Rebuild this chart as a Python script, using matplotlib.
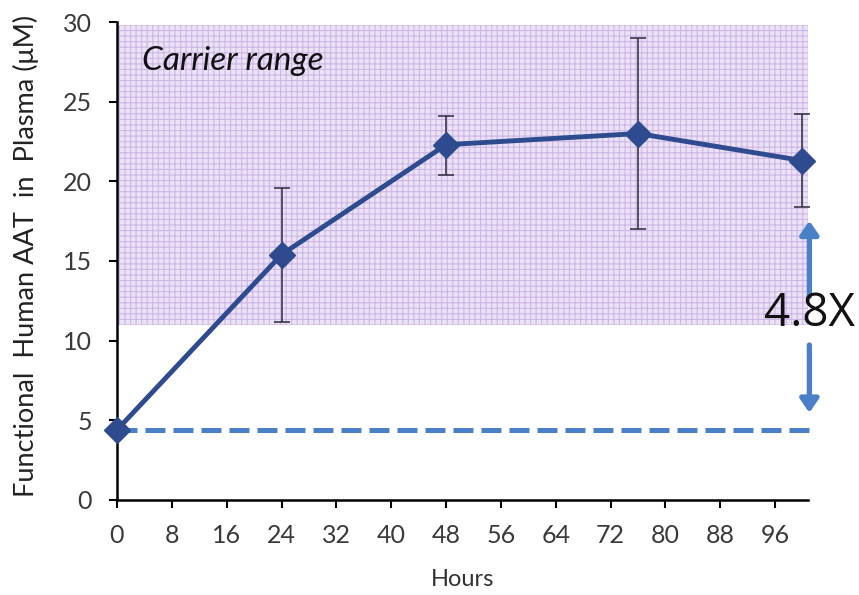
import matplotlib
matplotlib.use("Agg")
import matplotlib.pyplot as plt

hours = [0, 24, 48, 76, 100]
aat = [4.4, 15.4, 22.3, 23.0, 21.3]
err_hi = [0.0, 19.6, 24.1, 29.0, 24.2]
err_lo = [4.4, 11.2, 20.4, 17.0, 18.4]
xticks = [0, 8, 16, 24, 32, 40, 48, 56, 64, 72, 80, 88, 96]
yticks = [0, 5, 10, 15, 20, 25, 30]
carrier_lo, carrier_hi = 11.0, 29.8
baseline = 4.4

plt.rcParams['font.family'] = ['Lato', 'DejaVu Sans']
plt.rcParams['hatch.linewidth'] = 0.8

fig = plt.figure(figsize=(8.59, 5.95), dpi=100)
ax = fig.add_axes([0.1362, 0.1597, 0.8044, 0.8033])
xmax = 100.8
ax.set_xlim(0, xmax)
ax.set_ylim(0, 30)

ax.fill_between([0, xmax], carrier_lo, carrier_hi, facecolor='#ebe2f5',
                hatch='+++', edgecolor='#cdb7e8', linewidth=0, zorder=0)

ax.plot([0, xmax + 1.3], [baseline, baseline], ls=(0, (4, 1.6)), color='#4a80c8',
        lw=3.6, clip_on=False, zorder=2)

yerr_lo = [a - l for a, l in zip(aat, err_lo)]
yerr_hi = [h - a if h > 0 else 0 for h, a in zip(err_hi, aat)]
yerr_lo[0] = 0
ax.errorbar(hours, aat, yerr=[yerr_lo, yerr_hi], fmt='none', ecolor='#2b2b3a',
            elinewidth=1.1, capsize=5.5, capthick=1.1, zorder=3, clip_on=False)
ax.plot(hours, aat, color='#2d4b8e', lw=3.5, marker='D', markersize=13,
        zorder=4, clip_on=False)

ax.set_xticks(xticks)
ax.set_yticks(yticks)
ax.tick_params(direction='out', length=6, width=1.5, labelsize=18, colors='#000000',
               labelcolor='#3a3a3a')
ax.tick_params(axis='x', pad=11)
ax.tick_params(axis='y', pad=12)
for s in ['top', 'right']:
    ax.spines[s].set_visible(False)
for s in ['left', 'bottom']:
    ax.spines[s].set_linewidth(1.8)

ax.set_xlabel('Hours', fontsize=17, color='#333333', labelpad=16)
ax.set_ylabel('Functional  Human AAT  in  Plasma (\u03bcM)', fontsize=19.5,
              color='#222222', labelpad=13)
ax.yaxis.set_label_coords(-0.113, 0.51)

ax.text(3.6, 27.0, 'Carrier range', fontsize=24, style='italic', color='#111111')

# 4.8X annotation
ax.annotate('', xy=(101, 17.7), xytext=(101, 12.6),
            arrowprops=dict(arrowstyle='-|>,head_length=0.8,head_width=0.55',
                            color='#4a80c8', lw=3.8), annotation_clip=False)
ax.annotate('', xy=(101, 5.3), xytext=(101, 9.9),
            arrowprops=dict(arrowstyle='-|>,head_length=0.8,head_width=0.55',
                            color='#4a80c8', lw=3.8), annotation_clip=False)
ax.text(101, 11.7, '4.8X', fontsize=33, color='#111111', ha='center', va='center',
        family=['Open Sans', 'DejaVu Sans'])

fig.savefig('out.png', dpi=100)
